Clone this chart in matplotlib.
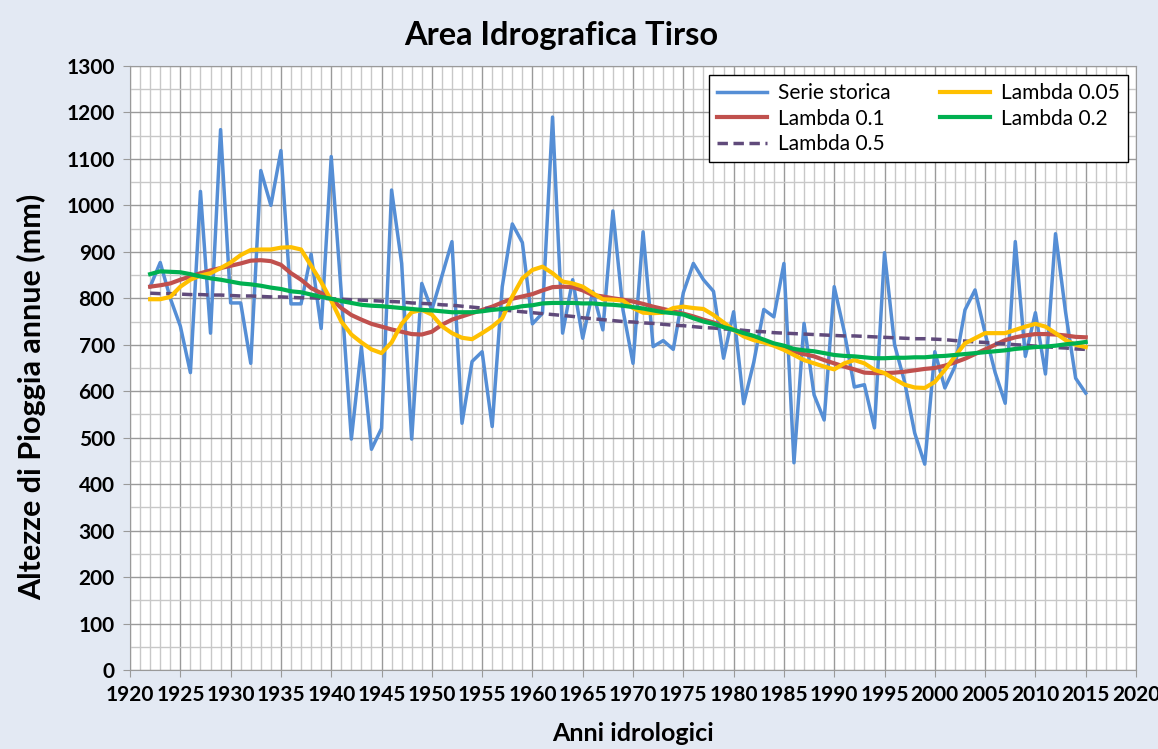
import matplotlib as mpl, matplotlib.pyplot as plt, numpy as np
from matplotlib.ticker import MultipleLocator

plt.rcParams['font.family'] = ['Lato', 'DejaVu Sans']

# Anni idrologici 1922-2015
anni = list(range(1922, 2016))

serie_storica = [
    825, 877, 800, 740, 640, 1030, 725, 1163,                   # 1922-1929
    790, 790, 660, 1075, 1000, 1118, 788, 788, 895, 735,        # 1930-1939
    1105, 810, 497, 695, 475, 520, 1033, 875, 497, 832,         # 1940-1949
    775, 848, 922, 531, 664, 685, 524, 825, 960, 920,           # 1950-1959
    745, 768, 1190, 725, 840, 714, 815, 732, 988, 775,          # 1960-1969
    660, 943, 696, 709, 690, 812, 875, 840, 815, 671,           # 1970-1979
    771, 573, 662, 776, 760, 875, 446, 746, 592, 538,           # 1980-1989
    825, 728, 609, 614, 521, 898, 700, 620, 510, 443,           # 1990-1999
    685, 607, 653, 775, 818, 725, 640, 574, 922, 675,           # 2000-2009
    769, 637, 939, 770, 628, 596,                               # 2010-2015
]

lambda_005 = [
    798, 798, 803, 825, 840, 849, 854, 865,
    877, 893, 904, 905, 905, 909, 910, 905, 870, 835,
    795, 750, 722, 705, 690, 682, 705, 745, 770, 775,
    765, 740, 725, 715, 712, 725, 739, 757, 804, 843,
    861, 868, 854, 836, 832, 825, 811, 798, 797, 795,
    779, 769, 768, 769, 779, 782, 779, 777, 764, 748,
    732, 718, 710, 705, 698, 689, 678, 667, 660, 653,
    647, 660, 667, 660, 646, 639, 626, 614, 608, 607,
    620, 646, 675, 703, 714, 725, 725, 725, 732, 739,
    745, 739, 725, 710, 700, 695,
]

lambda_01 = [
    825, 828, 832, 840, 847, 854, 860, 865,
    870, 875, 881, 882, 880, 872, 854, 840, 822, 811,
    799, 779, 764, 754, 745, 739, 733, 728, 723, 722,
    728, 743, 754, 761, 768, 775, 782, 791, 799, 804,
    809, 817, 824, 825, 824, 817, 807, 804, 800, 797,
    793, 788, 782, 777, 772, 767, 761, 754, 748, 739,
    732, 725, 718, 709, 700, 693, 685, 680, 675, 667,
    660, 653, 647, 640, 639, 639, 640, 642, 645, 648,
    650, 655, 662, 670, 680, 690, 700, 710, 716, 720,
    723, 723, 722, 720, 717, 716,
]

lambda_02 = [
    852, 858, 857, 856, 852, 847, 843, 840,
    836, 832, 830, 827, 823, 820, 815, 813, 808, 803,
    799, 794, 790, 786, 784, 783, 781, 779, 777, 775,
    774, 772, 770, 770, 770, 772, 775, 777, 779, 783,
    785, 789, 790, 790, 790, 789, 789, 787, 786, 784,
    781, 778, 774, 770, 768, 765, 757, 750, 745, 738,
    732, 725, 719, 711, 703, 698, 691, 688, 686, 682,
    678, 676, 675, 673, 671, 671, 672, 672, 673, 673,
    675, 676, 678, 680, 682, 684, 686, 688, 691, 693,
    695, 696, 698, 701, 703, 706,
]

lambda_05 = [
    811, 810, 810, 809, 808, 808, 807, 807,
    806, 805, 805, 804, 803, 803, 802, 801, 801, 800,
    799, 798, 797, 796, 795, 794, 793, 792, 790, 789,
    788, 786, 785, 783, 781, 779, 777, 775, 773, 771,
    769, 767, 765, 763, 761, 758, 756, 754, 752, 750,
    749, 747, 746, 744, 742, 741, 739, 737, 736, 734,
    733, 731, 729, 728, 726, 725, 724, 723, 722, 721,
    720, 719, 719, 718, 717, 716, 715, 714, 713, 713,
    712, 711, 709, 708, 706, 705, 703, 702, 700, 699,
    697, 696, 694, 693, 691, 690,
]

# Figure (Excel-like chart area)
fig = plt.figure(figsize=(11.58, 7.49), dpi=100)
fig.patch.set_facecolor('#E3E9F3')
ax = fig.add_axes([0.1123, 0.1055, 0.8687, 0.8064])
ax.set_facecolor('white')

ax.plot(anni, serie_storica, color='#558ED5', lw=2.5, label='Serie storica', zorder=3)
ax.plot(anni, lambda_01, color='#C0504D', lw=3.0, label='Lambda 0.1', zorder=4)
ax.plot(anni, lambda_05, color='#604A7B', lw=2.5, ls=(0, (3, 1.6)), label='Lambda 0.5', zorder=4)
ax.plot(anni, lambda_005, color='#FFC000', lw=3.0, label='Lambda 0.05', zorder=4)
ax.plot(anni, lambda_02, color='#00B050', lw=3.0, label='Lambda 0.2', zorder=5)

ax.set_xlim(1920, 2020)
ax.set_ylim(0, 1300)
ax.xaxis.set_major_locator(MultipleLocator(5))
ax.xaxis.set_minor_locator(MultipleLocator(1))
ax.yaxis.set_major_locator(MultipleLocator(100))
ax.yaxis.set_minor_locator(MultipleLocator(50))
ax.grid(which='major', color='#9A9A9A', lw=1.0, zorder=0)
ax.grid(which='minor', color='#C8C8C8', lw=1.0, zorder=0)
ax.set_axisbelow(True)

for s in ax.spines.values():
    s.set_color('#9A9A9A')
ax.tick_params(which='major', length=5, color='#9A9A9A', labelsize=15, pad=6)
ax.tick_params(which='minor', length=0)
for lbl in ax.get_xticklabels() + ax.get_yticklabels():
    lbl.set_fontweight('bold')

fig.text(0.4845, 0.952, 'Area Idrografica Tirso', fontsize=23.5, fontweight='bold',
         ha='center', va='center')
ax.set_xlabel('Anni idrologici', fontsize=18, fontweight='bold', labelpad=12)
fig.text(0.027, 0.47, 'Altezze di Pioggia annue (mm)', fontsize=22, fontweight='bold',
         rotation=90, ha='center', va='center')

leg = ax.legend(ncol=2, loc='upper right', bbox_to_anchor=(0.992, 0.985), borderaxespad=0,
                fontsize=15, handlelength=2.4, handletextpad=0.5, labelspacing=0.25,
                columnspacing=2.4, fancybox=False, framealpha=1, edgecolor='black')
leg.get_frame().set_linewidth(1.0)

plt.savefig('out.png', dpi=100, facecolor=fig.get_facecolor())
